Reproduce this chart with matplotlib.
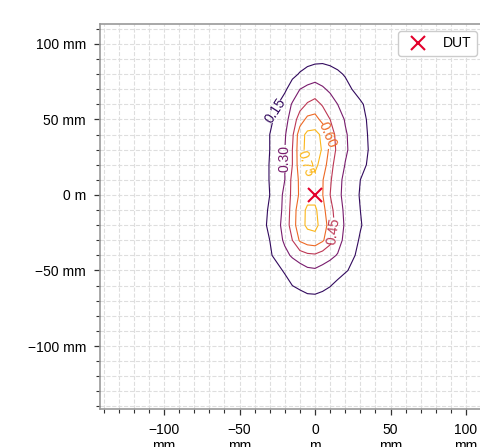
import numpy as np
import matplotlib
matplotlib.use('Agg')
import matplotlib.pyplot as plt
from matplotlib.ticker import EngFormatter, MultipleLocator

plt.rcParams['font.family'] = ['Liberation Sans', 'DejaVu Sans']
plt.rcParams['font.size'] = 10

# grid coordinates of the measured field (mm)
x_mm = [-50, -40, -30, -20, -15, -10, -5, 0, 5, 10, 15, 20, 30, 40, 50]
y_mm = [100, 90, 80, 70, 60, 50, 40, 30, 20, 10, 0,
        -10, -20, -30, -40, -50, -60, -70, -80, -90]

# normalised field values, one row per y (top to bottom)
field = [
    [0.01, 0.01, 0.02, 0.03, 0.03, 0.04, 0.05, 0.05, 0.05, 0.05, 0.04, 0.03, 0.02, 0.01, 0.01],
    [0.01, 0.02, 0.03, 0.05, 0.07, 0.09, 0.10, 0.11, 0.12, 0.11, 0.10, 0.08, 0.05, 0.03, 0.01],
    [0.01, 0.02, 0.03, 0.07, 0.12, 0.16, 0.20, 0.23, 0.22, 0.20, 0.17, 0.14, 0.045, 0.02, 0.01],
    [0.01, 0.02, 0.04, 0.13, 0.21, 0.30, 0.34, 0.36, 0.32, 0.275, 0.235, 0.19, 0.10, 0.03, 0.01],
    [0.01, 0.03, 0.08, 0.21, 0.315, 0.39, 0.465, 0.505, 0.435, 0.37, 0.30, 0.255, 0.17, 0.07, 0.02],
    [0.015, 0.04, 0.12, 0.255, 0.36, 0.525, 0.64, 0.655, 0.555, 0.45, 0.365, 0.29, 0.19, 0.09, 0.02],
    [0.02, 0.05, 0.15, 0.285, 0.42, 0.69, 0.785, 0.795, 0.72, 0.525, 0.40, 0.315, 0.20, 0.095, 0.02],
    [0.02, 0.05, 0.15, 0.30, 0.45, 0.70, 0.79, 0.80, 0.74, 0.56, 0.41, 0.32, 0.205, 0.10, 0.02],
    [0.02, 0.055, 0.155, 0.30, 0.45, 0.69, 0.775, 0.78, 0.70, 0.50, 0.38, 0.295, 0.19, 0.09, 0.02],
    [0.02, 0.055, 0.155, 0.30, 0.49, 0.63, 0.725, 0.715, 0.61, 0.47, 0.345, 0.265, 0.15, 0.05, 0.015],
    [0.02, 0.05, 0.15, 0.33, 0.49, 0.625, 0.70, 0.69, 0.605, 0.45, 0.335, 0.26, 0.14, 0.045, 0.015],
    [0.02, 0.06, 0.165, 0.335, 0.515, 0.69, 0.775, 0.78, 0.65, 0.50, 0.37, 0.27, 0.15, 0.05, 0.015],
    [0.02, 0.06, 0.175, 0.35, 0.525, 0.70, 0.775, 0.785, 0.70, 0.525, 0.39, 0.28, 0.16, 0.06, 0.02],
    [0.02, 0.05, 0.15, 0.325, 0.45, 0.62, 0.68, 0.70, 0.62, 0.50, 0.36, 0.26, 0.135, 0.045, 0.015],
    [0.015, 0.04, 0.13, 0.26, 0.32, 0.37, 0.415, 0.425, 0.38, 0.335, 0.29, 0.225, 0.11, 0.03, 0.01],
    [0.01, 0.02, 0.07, 0.165, 0.20, 0.235, 0.27, 0.28, 0.25, 0.225, 0.195, 0.165, 0.08, 0.02, 0.01],
    [0.01, 0.01, 0.03, 0.10, 0.15, 0.17, 0.19, 0.19, 0.175, 0.155, 0.12, 0.07, 0.03, 0.01, 0.01],
    [0.01, 0.01, 0.02, 0.05, 0.08, 0.10, 0.115, 0.12, 0.11, 0.09, 0.07, 0.05, 0.02, 0.01, 0.01],
    [0.01, 0.01, 0.01, 0.03, 0.04, 0.05, 0.06, 0.06, 0.05, 0.04, 0.03, 0.02, 0.01, 0.01, 0.01],
    [0.00, 0.01, 0.01, 0.01, 0.02, 0.02, 0.02, 0.02, 0.02, 0.02, 0.01, 0.01, 0.01, 0.01, 0.00],
]

levels = [0.15, 0.30, 0.45, 0.60, 0.75]
dut_x = [0.0]
dut_y = [0.0]
dut_label = 'DUT'

X = np.array(x_mm) / 1000.0
Y = np.array(y_mm) / 1000.0
Z = np.array(field)

fig = plt.figure(figsize=(4.8, 4.47), dpi=100)
ax = fig.add_axes([100 / 480, 38 / 447, 384 / 480, 385 / 447])

ax.set_axisbelow(True)
ax.grid(which='both', linestyle='--', color='#dedede', linewidth=0.8)

cs = ax.contour(X, Y, Z, levels=levels, cmap='inferno', vmin=0.0, vmax=0.9,
                linewidths=0.8)
label_pos = [(-0.0254, 0.055), (-0.0188, 0.024), (0.0125, -0.024),
             (0.0088, 0.0397), (-0.0060, 0.021)]
ax.clabel(cs, fmt='%.2f', fontsize=10, manual=label_pos, inline=True)

ax.plot(dut_x, dut_y, linestyle='none', marker='x', color='#e3002b',
        markersize=10, markeredgewidth=1.5, label=dut_label)

ax.set_xlim(-0.1424, 0.1119)
ax.set_ylim(-0.1417, 0.1132)

ax.xaxis.set_major_locator(MultipleLocator(0.05))
ax.yaxis.set_major_locator(MultipleLocator(0.05))
ax.xaxis.set_minor_locator(MultipleLocator(0.01))
ax.yaxis.set_minor_locator(MultipleLocator(0.01))
ax.xaxis.set_major_formatter(EngFormatter(unit='m', sep='\n'))
ax.yaxis.set_major_formatter(EngFormatter(unit='m'))

ax.tick_params(which='major', length=4.5, width=0.9, pad=5.5, color='#333333')
ax.tick_params(which='minor', length=2.6, width=0.8, color='#333333')
for sp in ax.spines.values():
    sp.set_color('#999999')
    sp.set_linewidth(1.2)

leg = ax.legend(loc='upper right', fontsize=10, framealpha=1.0)
leg.get_frame().set_edgecolor('#cccccc')

fig.savefig('out.png', dpi=100)
